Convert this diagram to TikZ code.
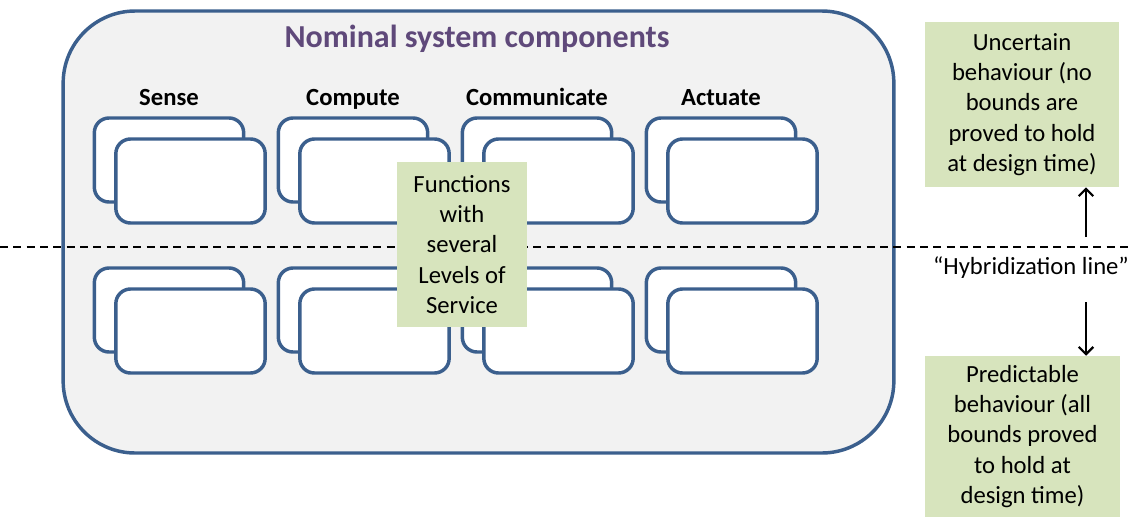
\documentclass[tikz,border=0pt]{standalone}
\usepackage{fontspec}
\setmainfont{Carlito}
\usetikzlibrary{arrows.meta}
\definecolor{frameblue}{HTML}{3B5F8D}
\definecolor{titlepurple}{HTML}{5F497A}
\definecolor{notegreen}{HTML}{D7E4BD}
\definecolor{panelgrey}{HTML}{F2F2F2}
\begin{document}
\begin{tikzpicture}[x=0.75pt,y=-0.75pt,
  panel/.style={draw=frameblue, line width=2.6pt, fill=panelgrey, rounded corners=54pt, inner sep=0pt},
  cardbox/.style={draw=frameblue, line width=2.6pt, fill=white, rounded corners=11pt,
    minimum width=112pt, minimum height=63pt, inner sep=0pt},
  note/.style={fill=notegreen, align=center, inner sep=0pt,
    font=\fontsize{18.5}{22.6}\selectfont},
  headlabel/.style={font=\bfseries\fontsize{18.5}{22}\selectfont, inner sep=0pt, anchor=base},
  paneltitle/.style={font=\bfseries\fontsize{24}{28}\selectfont, text=titlepurple, inner sep=0pt, anchor=base},
  hybrid/.style={dashed, dash pattern=on 6pt off 4pt, line width=1.8pt},
  arr/.style={line width=1.6pt, -{Straight Barb[length=5.5pt,width=11pt,line width=1.6pt]}}
]
\useasboundingbox (0,0) rectangle (1130,518);

% outer panel holding the nominal components
\node[panel, minimum width=623pt, minimum height=331.5pt] (panel) at (478.5,232) {};
\node[paneltitle] (title) at (477,47) {Nominal system components};

% four component columns, each with two stacked card pairs
\foreach \name/\lab/\cx in {sense/Sense/169, compute/Compute/353, comm/Communicate/537, act/Actuate/721} {
  \node[headlabel] (\name-lab) at (\cx,105) {\lab};
  \foreach \row/\cy in {hi/160, lo/310} {
    \node[cardbox] (\name-\row-back) at (\cx,\cy) {};
    \node[cardbox] (\name-\row-front) at (\cx+21.5,\cy+21) {};
  }
}

% hybridization line across the whole figure
\coordinate (dashL) at (0,247);
\coordinate (dashR) at (1130,247);
\draw[hybrid] (dashL) -- (dashR);

% notes
\node[note, minimum width=97.5pt, minimum height=123.75pt] (levels) at (462,244.5)
  {Functions\\with\\several\\Levels of\\Service};
\node[note, minimum width=145.5pt, minimum height=123.75pt] (unc) at (1022,104.5)
  {Uncertain\\behaviour (no\\bounds are\\proved to hold\\at design time)};
\node[note, minimum width=146.25pt, minimum height=120.75pt] (pred) at (1022.5,436.5)
  {Predictable\\behaviour (all\\bounds proved\\to hold at\\design time)};

\node[inner sep=0pt, font=\fontsize{18.5}{22}\selectfont] (hyblabel) at (1031,268)
  {“Hybridization line”};

% arrows pointing away from the hybridization line
\coordinate (upstart) at (1086,237);
\coordinate (downstart) at (1086,302);
\draw[arr] (upstart) -- (unc.south -| upstart);
\draw[arr] (downstart) -- (pred.north -| downstart);
\end{tikzpicture}
\end{document}
